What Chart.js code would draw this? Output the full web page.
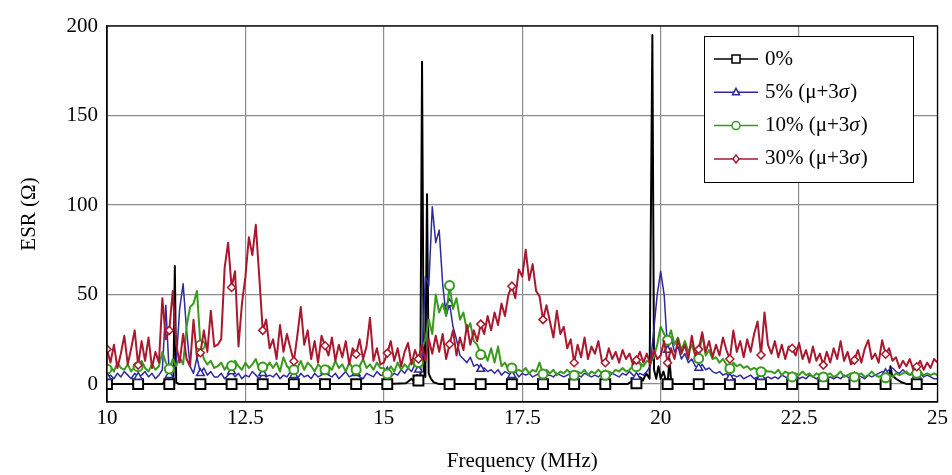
<!DOCTYPE html>
<html>
<head>
<meta charset="utf-8">
<script src="https://cdn.jsdelivr.net/npm/chart.js@4.4.1/dist/chart.umd.min.js"></script>
<style>
  html, body { margin: 0; padding: 0; background: #fff; }
  #wrap { width: 952px; height: 475px; }
</style>
</head>
<body>
<div id="wrap"><canvas id="esrChart" width="952" height="475"></canvas></div>
<script>
// sampling grid of the 5 / 10 / 30 % curves (MHz)
const freqMin = 10;
const freqStep = 0.0625;
const markEvery = 9; // one marker each 0.5625 MHz

// ESR (ohm), one value per grid step (10 ... 25 MHz)
const esr5 = [
  4, 5, 3, 6, 4, 7, 5, 3, 6, 4, 5, 7, 4, 6, 3, 5,
  8, 44, 5, 8, 12, 42, 56, 30, 10, 6, 15, 6, 9, 5, 7, 4,
  4, 6, 3, 5, 7, 4, 6, 3, 5, 4, 7, 5, 3, 6, 4, 5,
  4, 6, 3, 5, 4, 7, 5, 3, 6, 4, 5, 3, 6, 4, 5, 7,
  5, 4, 6, 3, 5, 7, 4, 5, 6, 4, 3, 6, 5, 4, 7, 5,
  5, 7, 4, 6, 5, 8, 6, 9, 7, 11, 8, 12, 60, 55, 99, 79,
  86, 56, 38, 45, 32, 25, 16, 14, 12, 15, 10, 11, 8.4, 9, 7, 8,
  6, 8, 5, 7, 6, 5, 7, 4, 6, 5, 6, 4, 5, 6, 4, 5,
  5, 4, 6, 5, 4, 5, 6, 4, 5, 4, 6, 5, 4, 5, 4, 6,
  5, 4, 6, 5, 4, 6, 5, 7, 5, 4, 6, 5, 7, 10, 30, 50,
  63, 50, 19, 26, 18, 21, 14, 17, 12, 14, 10, 9, 11, 8, 9, 7,
  6, 7, 5, 6, 3.5, 5, 4, 5, 3, 4, 5, 3, 4, 4, 3, 4,
  3, 4, 3, 5, 4, 3, 4, 5, 3, 4, 3, 5, 4, 3, 4, 3,
  3, 4, 3, 4, 3, 5, 4, 3, 4, 5, 4, 3, 5, 4, 5, 6,
  7, 6, 8, 9, 7, 6, 8, 6, 5, 7, 5, 6, 4, 5, 4, 3, 3
];

const esr10 = [
  8.4, 10, 7, 12, 9, 8, 11, 7, 10, 9.7, 13, 9, 7, 11, 8, 10,
  18, 12, 8.4, 14, 10, 15, 11, 32, 43, 45, 52, 21.8, 14, 11, 13, 9,
  10, 12, 8, 11, 10.2, 13, 10, 8, 12, 9, 11, 14, 8, 9.5, 9, 12,
  9, 12, 7, 15, 10, 8, 8, 9, 13, 8, 12, 10, 7, 11, 9, 8,
  10, 8, 13, 9, 11, 7, 12, 9, 8, 10, 14, 9, 11, 8, 12, 9,
  9, 5.6, 10, 7, 12, 8, 11, 9, 13, 10, 12, 20, 25, 36, 28, 50,
  40, 45, 38, 55, 42, 48, 36, 40, 30, 34, 24, 22, 16.5, 18, 13, 20,
  12, 21, 10, 12, 8, 9, 7, 8, 7, 9, 6, 8, 7, 12, 5.6, 8,
  6, 8, 5, 7, 6, 8, 6, 5, 7, 6, 8, 5, 7, 6, 8, 6,
  5, 7, 6, 8, 7, 9, 7, 8, 10, 9.7, 12, 10, 13, 12, 15, 22,
  32, 28, 24.5, 30, 22, 26, 19, 24, 18, 22, 16, 14.3, 28, 16, 19, 14,
  15, 12, 14, 11, 8.7, 12, 10, 11, 9, 10, 8, 9, 8, 6.9, 8, 7,
  7, 6, 8, 5, 7, 6, 4, 6, 5, 7, 5, 6, 4, 6, 5, 4,
  5, 6, 4, 5, 7, 4, 5, 6, 4, 5, 6, 4, 5, 7, 5, 4,
  5, 3.5, 5, 4, 6, 5, 6, 7, 5, 6, 6, 7, 5, 6, 5, 6, 5
];

const esr30 = [
  19.5, 12, 22, 9, 17, 27, 11, 20, 30, 10.6, 24, 13, 26, 9, 18, 12,
  48, 25, 30, 52, 22, 12, 28, 14, 10, 36, 15, 17.5, 30, 18, 41, 21,
  22, 25, 65, 79, 54, 63, 21, 45, 60, 82, 72, 89, 60, 30, 36, 20,
  25, 14, 33, 18, 28, 20, 12.8, 27, 43, 22, 30, 14, 24, 12, 27, 21.4,
  16, 26, 13, 22, 15, 24, 11, 20, 16.7, 25, 14, 21, 37, 13, 20, 11,
  12, 17.3, 24, 13, 20, 10, 18, 23, 11, 19, 14, 22, 13, 25, 17, 27,
  18, 28, 14, 22.3, 30, 16, 26, 19, 33, 22, 30, 24, 33.5, 28, 38, 30,
  40, 33, 45, 38, 50, 54.7, 48, 64, 60, 75, 58, 67, 52, 49, 36, 44,
  35, 26, 41, 28, 32, 20, 25, 11.9, 22, 15, 26, 14, 21, 17, 24, 13,
  11.9, 20, 14, 18, 12, 19, 14, 17, 11, 13.4, 18, 12, 17, 11, 19, 14,
  16, 24, 11.9, 20, 14, 25, 17, 22, 14, 27, 16, 19.4, 29, 18, 24, 15,
  22, 16, 26, 19, 14, 30, 18, 24, 15, 25, 18, 28, 35, 16.2, 40, 22,
  17, 24, 15, 22, 14, 21, 20, 16, 23, 14, 19, 12, 21, 13, 17, 10.6,
  18, 12, 20, 14, 24, 13, 18, 11, 13.4, 19, 12, 20, 24.5, 14, 17, 12,
  24.5, 16.7, 20, 13, 15, 9, 13, 10, 14, 8, 9.7, 13, 8, 12, 9, 14, 12
];

// 0 % curve: flat except a few narrow resonances, kept as x / y pairs
const freq0 = [
  10, 10.5625, 11, 11.05, 11.1, 11.125, 11.2, 11.225, 11.25, 11.3, 11.6875,
  12.25, 12.8125, 13.375, 13.9375, 14.5, 15.0625, 15.4, 15.5, 15.55, 15.6,
  15.625, 15.66, 15.69, 15.72, 15.75, 15.78, 15.81, 15.85, 15.9, 16,
  16.1875, 16.75, 17.3125, 17.875, 18.4375, 19, 19.4, 19.5, 19.5625, 19.62,
  19.68, 19.74, 19.8, 19.85, 19.88, 19.92, 19.96, 20, 20.05, 20.1, 20.125,
  20.16, 20.19, 20.25, 20.6875, 21.25, 21.8125, 22.375, 22.9375, 23.5,
  24.0625, 24.12, 24.15, 24.18, 24.25, 24.35, 24.45, 24.625, 25
];
const esr0 = [
  0, 0, 0, 2, 0, 0, 0, 66, 1, 0, 0,
  0, 0, 0, 0, 0, 0, 0.5, 3, 1, 5,
  2, 4, 180, 8, 4, 106, 6, 3, 1, 0,
  0, 0, 0, 0, 0, 0, 0, 2, 0.5, 4,
  2, 6, 3, 195, 8, 3, 10, 3, 7, 1, 0,
  14, 1, 0, 0, 0, 0, 0, 0, 0,
  0, 0, 10, 5, 3, 1, 0, 0, 0
];

const xTicks = [10, 12.5, 15, 17.5, 20, 22.5, 25];
const yTicks = [0, 50, 100, 150, 200];
const seriesNames = ['0%', '5% (μ+3σ)', '10% (μ+3σ)', '30% (μ+3σ)'];
const seriesColors = ['#000000', '#2c2a9e', '#3a9a1e', '#a8182e'];
const markerStyles = ['rect', 'triangle', 'circle', 'rectRot'];

const serif = "'Liberation Serif', 'DejaVu Serif', serif";

function onGrid(values) {
  return values.map((v, i) => ({ x: freqMin + i * freqStep, y: v }));
}

function isMarkFreq(f) {
  const k = (f - freqMin) / (freqStep * markEvery);
  return Math.abs(k - Math.round(k)) < 1e-6;
}

function markRadius(r) {
  return ctx => (ctx.raw && isMarkFreq(ctx.raw.x)) ? r : 0;
}

const markerRadius = [7, 4.5, 4.5, 4];
const markerBorder = [2, 1.5, 2, 1.5];
const lineWidths = [2, 1.5, 2, 2];

const curves = [
  freq0.map((f, i) => ({ x: f, y: esr0[i] })),
  onGrid(esr5),
  onGrid(esr10),
  onGrid(esr30)
];

const datasets = curves.map((pts, i) => ({
  label: seriesNames[i],
  data: pts,
  borderColor: seriesColors[i],
  borderWidth: lineWidths[i],
  borderJoinStyle: 'round',
  tension: 0,
  pointStyle: markerStyles[i],
  pointRadius: markRadius(markerRadius[i]),
  pointBorderWidth: markerBorder[i],
  pointBorderColor: seriesColors[i],
  pointBackgroundColor: '#ffffff',
  order: 4 - i // later curves drawn on top, as in the source figure
}));

// small marker shapes for the legend samples
function drawMark(ctx, style, x, y, color) {
  ctx.save();
  ctx.fillStyle = '#fff';
  ctx.strokeStyle = color;
  ctx.lineWidth = 1.5;
  ctx.beginPath();
  if (style === 'rect') {
    ctx.rect(x - 4, y - 4, 8, 8);
  } else if (style === 'triangle') {
    ctx.moveTo(x, y - 4);
    ctx.lineTo(x + 3.5, y + 2.5);
    ctx.lineTo(x - 3.5, y + 2.5);
    ctx.closePath();
  } else if (style === 'circle') {
    ctx.arc(x, y, 4, 0, Math.PI * 2);
  } else {
    ctx.moveTo(x, y - 4);
    ctx.lineTo(x + 3, y);
    ctx.lineTo(x, y + 4);
    ctx.lineTo(x - 3, y);
    ctx.closePath();
  }
  ctx.fill();
  ctx.stroke();
  ctx.restore();
}

// axis box on all four sides plus the boxed legend in the upper right
const frameAndLegend = {
  id: 'frameAndLegend',
  afterDraw(chart) {
    const { ctx, chartArea: a } = chart;
    ctx.save();
    ctx.strokeStyle = '#000';
    ctx.lineWidth = 1.3;
    ctx.strokeRect(a.left, a.top, a.right - a.left, a.bottom - a.top);

    const bx = Math.round(a.right - 234), by = Math.round(a.top + 10);
    const bw = 209, bh = 146;
    ctx.fillStyle = '#fff';
    ctx.fillRect(bx, by, bw, bh);
    ctx.lineWidth = 1;
    ctx.strokeStyle = '#000';
    ctx.strokeRect(bx + 0.5, by + 0.5, bw, bh);

    const font = '21px ' + serif;
    const italic = 'italic 21px ' + serif;
    ctx.textBaseline = 'middle';
    seriesNames.forEach((name, i) => {
      const y = by + 23 + i * 33.3;
      ctx.strokeStyle = seriesColors[i];
      ctx.lineWidth = 1.5;
      ctx.beginPath();
      ctx.moveTo(bx + 10, y);
      ctx.lineTo(bx + 54, y);
      ctx.stroke();
      drawMark(ctx, markerStyles[i], bx + 32, y, seriesColors[i]);

      // sigma is set in italic like the math in the original
      ctx.fillStyle = '#000';
      let tx = bx + 61;
      const parts = name.split('σ');
      parts.forEach((p, j) => {
        ctx.font = font;
        ctx.fillText(p, tx, y);
        tx += ctx.measureText(p).width;
        if (j < parts.length - 1) {
          ctx.font = italic;
          ctx.fillText('σ', tx, y);
          tx += ctx.measureText('σ').width + 1;
        }
      });
    });
    ctx.restore();
  }
};

new Chart(document.getElementById('esrChart'), {
  type: 'line',
  data: { datasets: datasets },
  options: {
    responsive: false,
    animation: false,
    parsing: true,
    layout: { padding: { top: 26, right: 14, left: 0, bottom: 0 } },
    plugins: {
      legend: { display: false },
      tooltip: { enabled: false }
    },
    scales: {
      x: {
        type: 'linear',
        min: 10,
        max: 25,
        afterBuildTicks: s => { s.ticks = xTicks.map(v => ({ value: v })); },
        afterFit: s => { s.height = 73; },
        ticks: {
          color: '#000',
          font: { family: serif, size: 21 },
          padding: 4,
          maxRotation: 0,
          callback: v => String(v)
        },
        grid: { color: '#8c8c8c', lineWidth: 1.2, drawTicks: false },
        border: { color: '#000', width: 1.3 },
        title: {
          display: true,
          text: 'Frequency (MHz)',
          color: '#000',
          font: { family: serif, size: 21 },
          padding: { top: 0, bottom: 1 }
        }
      },
      y: {
        min: -10,
        max: 200,
        afterBuildTicks: s => { s.ticks = yTicks.map(v => ({ value: v })); },
        afterFit: s => { s.width = 107; },
        ticks: {
          color: '#000',
          font: { family: serif, size: 21 },
          padding: 9,
          callback: v => String(v)
        },
        grid: { color: '#8c8c8c', lineWidth: 1.2, drawTicks: false },
        border: { color: '#000', width: 1.3 },
        title: {
          display: true,
          text: 'ESR (Ω)',
          color: '#000',
          font: { family: serif, size: 21 },
          padding: { top: 17, bottom: 0 }
        }
      }
    }
  },
  plugins: [frameAndLegend]
});
</script>
</body>
</html>
